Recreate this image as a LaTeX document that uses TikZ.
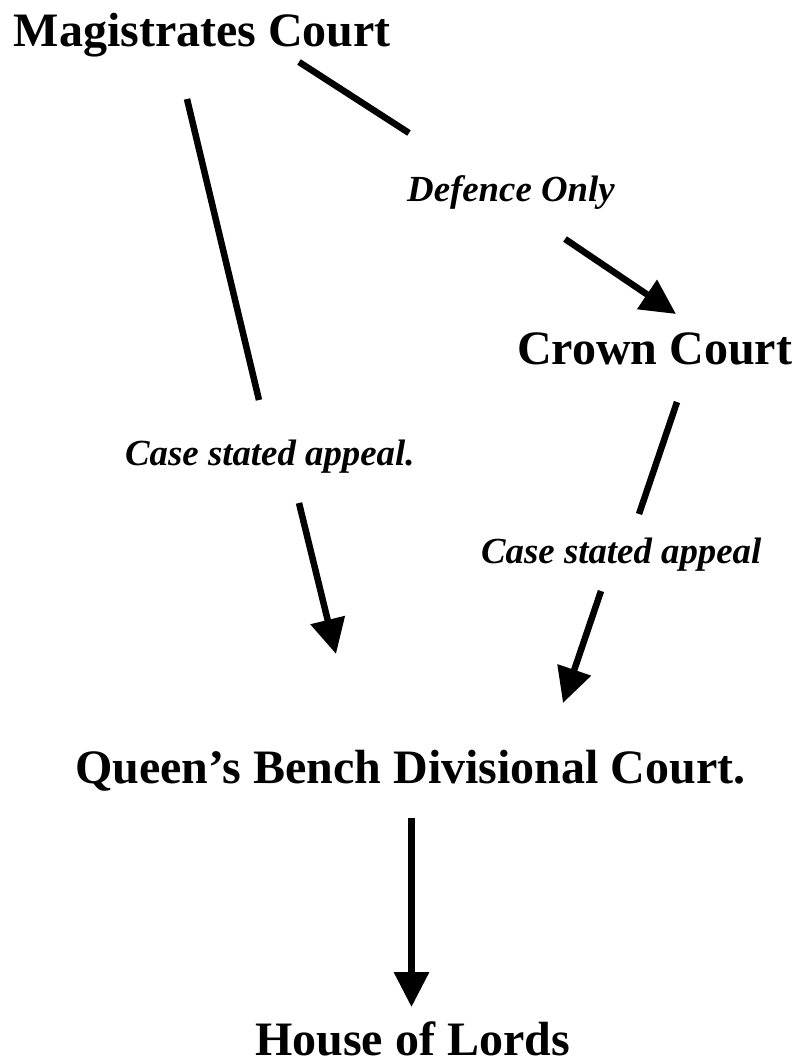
\documentclass[tikz,border=0pt]{standalone}
\usepackage{fontspec}
\setmainfont{Liberation Serif}
\usetikzlibrary{arrows.meta}
\begin{document}
\begin{tikzpicture}[x=1pt,y=-1pt,
  court/.style={anchor=base west,inner sep=0pt,font=\fontsize{48}{58}\selectfont\bfseries},
  lbl/.style={anchor=base west,inner sep=0pt,font=\fontsize{36.8}{44}\selectfont\bfseries\itshape},
  link/.style={line width=6.5pt,black},
  arr/.style={link,-{Triangle[length=35pt,width=34pt]}}]
\useasboundingbox (0,0) rectangle (794,1061);
% nodes
\node[court] (mag) at (13.5,46) {Magistrates Court};
\node[court] (crown) at (517,364) {Crown Court};
\node[court] (qb) at (75,783) {Queen’s Bench Divisional Court.};
\node[court] (lords) at (255,1055) {House of Lords};
\node[lbl] (def) at (407,201) {Defence Only};
\node[lbl] (csa1) at (125,465) {Case stated appeal.};
\node[lbl] (csa2) at (481,563) {Case stated appeal};
% connector end points
\coordinate (m1) at (299,62);
\coordinate (m2) at (409,133);
\coordinate (d1) at (565,239);
\coordinate (d2) at (676,314);
\coordinate (l1) at (187,99);
\coordinate (l2) at (259,400);
\coordinate (c1) at (299,503);
\coordinate (c2) at (336,654);
\coordinate (r1) at (677,402);
\coordinate (r2) at (639,514);
\coordinate (s1) at (601,591);
\coordinate (s2) at (563,703);
\coordinate (q1) at (411.5,818);
\coordinate (q2) at (411.5,1007);
% connectors
\draw[link] (m1) -- (m2);
\draw[arr] (d1) -- (d2);
\draw[link] (l1) -- (l2);
\draw[arr] (c1) -- (c2);
\draw[link] (r1) -- (r2);
\draw[arr] (s1) -- (s2);
\draw[arr] (q1) -- (q2);
\end{tikzpicture}
\end{document}
